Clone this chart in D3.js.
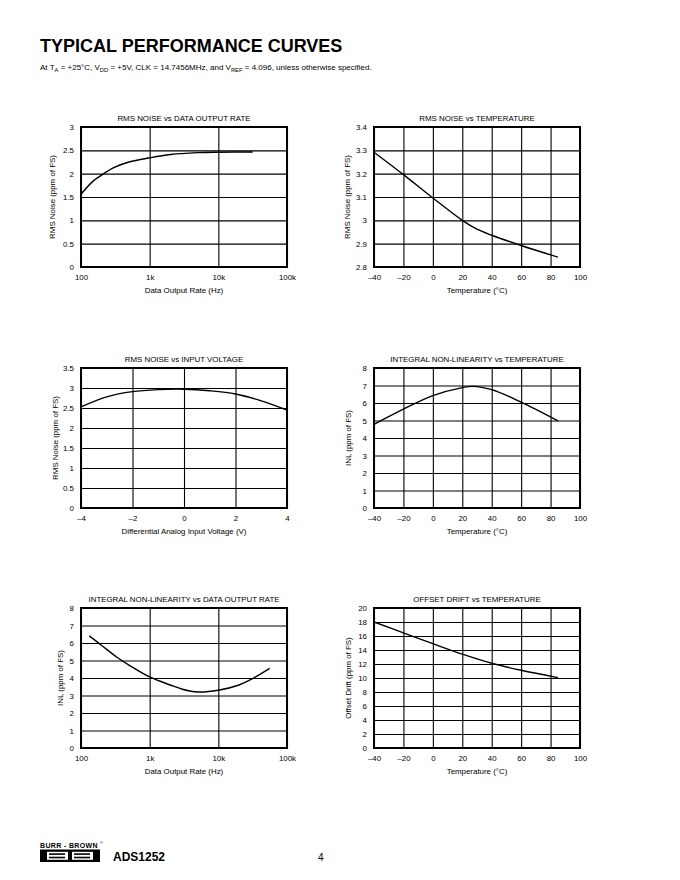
<!DOCTYPE html>
<html>
<head>
<meta charset="utf-8">
<script src="https://cdn.jsdelivr.net/npm/d3@7/dist/d3.min.js"></script>
<style>
  html, body { margin: 0; padding: 0; background: #fff; }
  svg { display: block; }
  text { font-family: "Liberation Sans", Arial, Helvetica, sans-serif; fill: #000; }
</style>
</head>
<body>
<svg id="chart" width="680" height="880"></svg>
<script>
// ---------- DATA ----------
// 1. RMS noise vs data output rate
const rateNoiseX = [100, 150, 200, 300, 500, 1000, 2000, 5000, 10000, 31600];
const rateNoiseY = [1.56, 1.84, 1.97, 2.13, 2.25, 2.34, 2.41, 2.45, 2.46, 2.465];
// 2. RMS noise vs temperature
const tempNoiseX = [-40, -20, 0, 20, 30, 40, 60, 85];
const tempNoiseY = [3.292, 3.196, 3.096, 3.0, 2.962, 2.936, 2.892, 2.842];
// 3. RMS noise vs input voltage
const voltNoiseX = [-4, -3, -2, -1, 0, 1, 2, 3, 4];
const voltNoiseY = [2.53, 2.78, 2.91, 2.96, 2.97, 2.93, 2.85, 2.68, 2.45];
// 4. INL vs temperature
const tempInlX = [-40, -20, 0, 20, 27, 40, 60, 85];
const tempInlY = [4.78, 5.65, 6.42, 6.88, 6.95, 6.76, 6.05, 4.98];
// 5. INL vs data output rate
const rateInlX = [132, 200, 330, 500, 1000, 2000, 3000, 5000, 10000, 20000, 30000, 56000];
const rateInlY = [6.41, 5.86, 5.2, 4.74, 4.06, 3.6, 3.36, 3.2, 3.3, 3.6, 3.92, 4.55];
// 6. Offset drift vs temperature
const tempDriftX = [-40, -20, 0, 20, 40, 60, 85];
const tempDriftY = [18.0, 16.45, 14.9, 13.4, 12.1, 11.1, 10.05];

// Tick values / labels
const rateTicks = [100, 1000, 10000, 100000];
const rateLabels = ["100", "1k", "10k", "100k"];
const tempTicks = [-40, -20, 0, 20, 40, 60, 80, 100];
const tempLabels = ["–40", "–20", "0", "20", "40", "60", "80", "100"];
const voltTicks = [-4, -2, 0, 2, 4];
const voltLabels = ["–4", "–2", "0", "2", "4"];
const noise3Ticks = [0, 0.5, 1, 1.5, 2, 2.5, 3];
const noise3Labels = ["0", "0.5", "1", "1.5", "2", "2.5", "3"];
const noiseTempTicks = [2.8, 2.9, 3.0, 3.1, 3.2, 3.3, 3.4];
const noiseTempLabels = ["2.8", "2.9", "3", "3.1", "3.2", "3.3", "3.4"];
const noiseVoltTicks = [0, 0.5, 1, 1.5, 2, 2.5, 3, 3.5];
const noiseVoltLabels = ["0", "0.5", "1", "1.5", "2", "2.5", "3", "3.5"];
const inlTicks = [0, 1, 2, 3, 4, 5, 6, 7, 8];
const inlLabels = ["0", "1", "2", "3", "4", "5", "6", "7", "8"];
const driftTicks = [0, 2, 4, 6, 8, 10, 12, 14, 16, 18, 20];
const driftLabels = ["0", "2", "4", "6", "8", "10", "12", "14", "16", "18", "20"];

// ---------- LAYOUT ----------
const W = 206, H = 140;
const FS = 7.9;
const svg = d3.select("#chart");

const panels = [
  { left: 81, top: 127, log: true, xDom: [100, 100000], xT: rateTicks, xL: rateLabels,
    yDom: [0, 3], yT: noise3Ticks, yL: noise3Labels, xs: rateNoiseX, ys: rateNoiseY,
    title: "RMS NOISE vs DATA OUTPUT RATE", xTitle: "Data Output Rate (Hz)",
    yTitle: "RMS Noise (ppm of FS)", yOff: 29 },
  { left: 374, top: 127, log: false, xDom: [-40, 100], xT: tempTicks, xL: tempLabels,
    yDom: [2.8, 3.4], yT: noiseTempTicks, yL: noiseTempLabels, xs: tempNoiseX, ys: tempNoiseY,
    title: "RMS NOISE vs TEMPERATURE", xTitle: "Temperature (°C)",
    yTitle: "RMS Noise (ppm of FS)", yOff: 27 },
  { left: 81, top: 368, log: false, xDom: [-4, 4], xT: voltTicks, xL: voltLabels,
    yDom: [0, 3.5], yT: noiseVoltTicks, yL: noiseVoltLabels, xs: voltNoiseX, ys: voltNoiseY,
    title: "RMS NOISE vs INPUT VOLTAGE", xTitle: "Differential Analog Input Voltage (V)",
    yTitle: "RMS Noise (ppm of FS)", yOff: 26 },
  { left: 374, top: 368, log: false, xDom: [-40, 100], xT: tempTicks, xL: tempLabels,
    yDom: [0, 8], yT: inlTicks, yL: inlLabels, xs: tempInlX, ys: tempInlY,
    title: "INTEGRAL NON-LINEARITY vs TEMPERATURE", xTitle: "Temperature (°C)",
    yTitle: "INL (ppm of FS)", yOff: 26 },
  { left: 81, top: 608, log: true, xDom: [100, 100000], xT: rateTicks, xL: rateLabels,
    yDom: [0, 8], yT: inlTicks, yL: inlLabels, xs: rateInlX, ys: rateInlY,
    title: "INTEGRAL NON-LINEARITY vs DATA OUTPUT RATE", xTitle: "Data Output Rate (Hz)",
    yTitle: "INL (ppm of FS)", yOff: 21 },
  { left: 374, top: 608, log: false, xDom: [-40, 100], xT: tempTicks, xL: tempLabels,
    yDom: [0, 20], yT: driftTicks, yL: driftLabels, xs: tempDriftX, ys: tempDriftY,
    title: "OFFSET DRIFT vs TEMPERATURE", xTitle: "Temperature (°C)",
    yTitle: "Offset Drift (ppm of FS)", yOff: 26 }
];

panels.forEach(p => {
  const g = svg.append("g").attr("transform", `translate(${p.left},${p.top})`);
  const x = (p.log ? d3.scaleLog() : d3.scaleLinear()).domain(p.xDom).range([0, W]);
  const y = d3.scaleLinear().domain(p.yDom).range([H, 0]);

  const xa = g.append("g").attr("transform", `translate(0,${H})`)
    .call(d3.axisBottom(x).tickValues(p.xT).tickFormat((d, i) => p.xL[i])
      .tickSize(-H).tickPadding(7.5));
  const ya = g.append("g")
    .call(d3.axisLeft(y).tickValues(p.yT).tickFormat((d, i) => p.yL[i])
      .tickSize(-W).tickPadding(7));
  [xa, ya].forEach(a => {
    a.select(".domain").remove();
    a.selectAll(".tick line").attr("stroke", "#000").attr("stroke-width", 1.1);
    a.selectAll(".tick text").attr("font-size", FS)
      .attr("font-family", '"Liberation Sans", Arial, sans-serif').attr("fill", "#000");
  });

  g.append("rect").attr("x", 0).attr("y", 0).attr("width", W).attr("height", H)
    .attr("fill", "none").attr("stroke", "#000").attr("stroke-width", 2);

  const pts = p.xs.map((v, i) => [v, p.ys[i]]);
  g.append("path").datum(pts)
    .attr("fill", "none").attr("stroke", "#000").attr("stroke-width", 1.4)
    .attr("d", d3.line().x(d => x(d[0])).y(d => y(d[1])).curve(d3.curveCatmullRom.alpha(0.5)));

  g.append("text").attr("x", W / 2).attr("y", -6).attr("text-anchor", "middle")
    .attr("font-size", FS).text(p.title);
  g.append("text").attr("x", W / 2).attr("y", H + 26).attr("text-anchor", "middle")
    .attr("font-size", FS).text(p.xTitle);
  g.append("text").attr("transform", `translate(${-p.yOff},${H / 2}) rotate(-90)`)
    .attr("text-anchor", "middle").attr("dy", "0.35em")
    .attr("font-size", FS).text(p.yTitle);
});

// ---------- HEADER ----------
svg.append("text").attr("x", 40).attr("y", 52).attr("font-size", 18)
  .attr("font-weight", "bold").text("TYPICAL PERFORMANCE CURVES");

const sub = svg.append("text").attr("x", 40).attr("y", 70).attr("font-size", 8);
const parts = [["At T", false], ["A", true], [" = +25°C, V", false], ["DD", true],
  [" = +5V, CLK = 14.7456MHz, and V", false], ["REF", true],
  [" = 4.096, unless otherwise specified.", false]];
parts.forEach(([t, s], i) => {
  const ts = sub.append("tspan").text(t);
  if (s) ts.attr("font-size", 5.8).attr("dy", 2);
  else ts.attr("dy", i > 0 ? -2 : 0);
});

// ---------- FOOTER ----------
svg.append("text").attr("x", 40).attr("y", 847.5).attr("font-size", 7)
  .attr("font-weight", "bold").attr("letter-spacing", 0.35).text("BURR - BROWN");
svg.append("text").attr("x", 100).attr("y", 843.5).attr("font-size", 4).text("®");
svg.append("rect").attr("x", 40).attr("y", 849.5).attr("width", 60).attr("height", 12.5).attr("fill", "#000");
[47, 72].forEach(bx => {
  svg.append("rect").attr("x", bx).attr("y", 851.8).attr("width", 21).attr("height", 8).attr("fill", "#fff");
  svg.append("rect").attr("x", bx + 2).attr("y", 853.3).attr("width", 16).attr("height", 1.6).attr("fill", "#000");
  svg.append("rect").attr("x", bx + 2).attr("y", 856.7).attr("width", 16).attr("height", 1.6).attr("fill", "#000");
});
svg.append("text").attr("x", 113).attr("y", 861).attr("font-size", 12)
  .attr("font-weight", "bold").text("ADS1252");
svg.append("text").attr("x", 318).attr("y", 861).attr("font-size", 10)
  .attr("font-family", '"Liberation Serif", "DejaVu Serif", serif').text("4");
</script>
</body>
</html>
